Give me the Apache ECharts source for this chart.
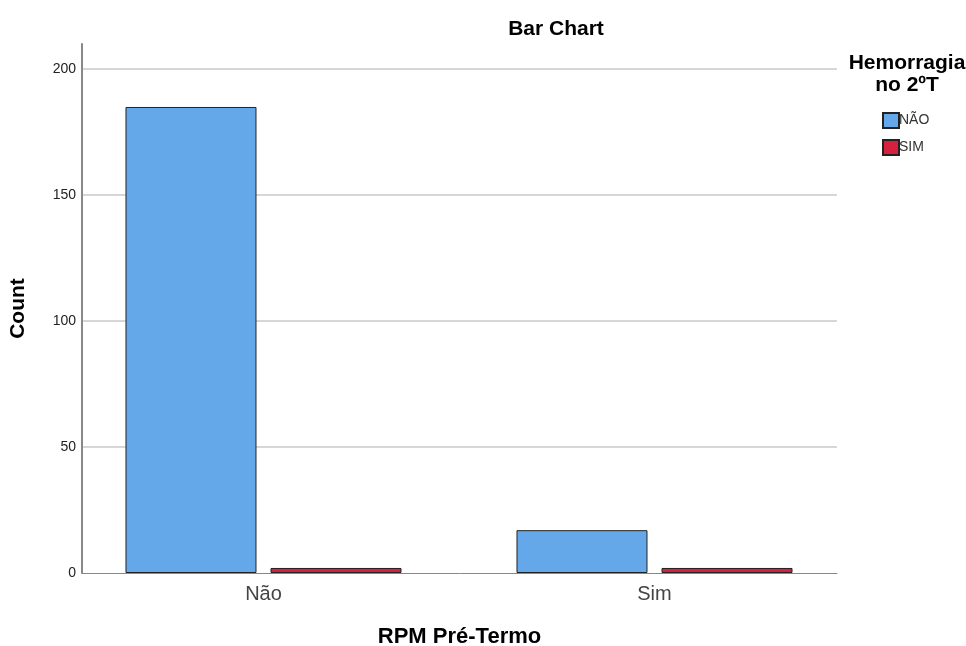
<!DOCTYPE html>
<html><head><meta charset="utf-8">
<script src="https://cdn.jsdelivr.net/npm/echarts@6/dist/echarts.min.js"></script>
<style>html,body{margin:0;padding:0;background:#fff}#c{width:966px;height:646px}</style>
</head><body><div id="c"></div>
<script>
const categories = ['Não', 'Sim'];
const seriesNames = ['NÃO', 'SIM'];
const valuesNAO = [185, 17];
const valuesSIM = [2, 2];
const yTicks = [0, 50, 100, 150, 200];
const yMax = 210;

const font = '"Liberation Sans", Arial, sans-serif';
const chart = echarts.init(document.getElementById('c'));
chart.setOption({
  animation: false,
  backgroundColor: '#fff',
  title: {
    text: 'Bar Chart', left: 551, top: 14, textAlign: 'center',
    textStyle: {fontFamily: font, fontSize: 21, fontWeight: 'bold', color: '#000'}
  },
  graphic: [
    {type: 'text', x: 907, y: 53, style: {text: 'Hemorragia', font: 'bold 21px ' + font, fill: '#000', align: 'center', verticalAlign: 'top'}},
    {type: 'text', x: 907, y: 75, style: {text: 'no 2ºT', font: 'bold 21px ' + font, fill: '#000', align: 'center', verticalAlign: 'top'}}
  ],
  legend: {
    orient: 'vertical', left: 877, top: 107, itemWidth: 16, itemHeight: 15, itemGap: 10,
    icon: 'rect', data: seriesNames,
    textStyle: {fontFamily: font, fontSize: 14, color: '#333', padding: [0,0,0,-5]}
  },
  grid: [
    {left: 82, right: 129, top: 44, bottom: 73, containLabel: false, outerBoundsMode: 'none'},
    {left: 68, right: 116, top: 44, bottom: 73, containLabel: false, outerBoundsMode: 'none'}
  ],
  xAxis: [
    {gridIndex: 0, type: 'value', min: 0, max: 1, show: true,
     axisLine: {show: true, onZero: false, lineStyle: {color: '#888', width: 1}},
     axisTick: {show: false}, axisLabel: {show: false}, splitLine: {show: false},
     name: 'RPM Pré-Termo', nameLocation: 'middle', nameGap: 53,
     nameTextStyle: {fontFamily: font, fontSize: 22, fontWeight: 'bold', color: '#000'}},
    {gridIndex: 1, type: 'category', data: categories,
     axisLine: {show: false}, axisTick: {show: false},
     axisLabel: {fontFamily: font, fontSize: 20, color: '#444', margin: 11}}
  ],
  yAxis: [
    {gridIndex: 0, type: 'value', min: 0, max: yMax, interval: 50,
     axisLine: {show: true, lineStyle: {color: '#888', width: 2}},
     axisTick: {show: false},
     axisLabel: {fontFamily: font, fontSize: 14, color: '#222', margin: 6, showMaxLabel: false,
       formatter: v => yTicks.includes(v) ? String(v) : ''},
     splitLine: {show: true, showMinLine: false, showMaxLine: false, lineStyle: {color: '#d6d6d6', width: 2}},
     name: 'Count', nameLocation: 'middle', nameGap: 53, nameRotate: 90,
     nameTextStyle: {fontFamily: font, fontSize: 21, fontWeight: 'bold', color: '#000'}},
    {gridIndex: 1, type: 'value', min: 0, max: yMax, show: false}
  ],
  series: [
    {name: 'NÃO', type: 'bar', xAxisIndex: 1, yAxisIndex: 1, data: valuesNAO,
     barWidth: 131, barGap: '10.7%',
     itemStyle: {color: '#64a8e9', borderColor: '#222', borderWidth: 1}},
    {name: 'SIM', type: 'bar', xAxisIndex: 1, yAxisIndex: 1, data: valuesSIM,
     barWidth: 131, barGap: '10.7%',
     itemStyle: {color: '#d5213d', borderColor: '#222', borderWidth: 1}}
  ]
});
</script></body></html>
